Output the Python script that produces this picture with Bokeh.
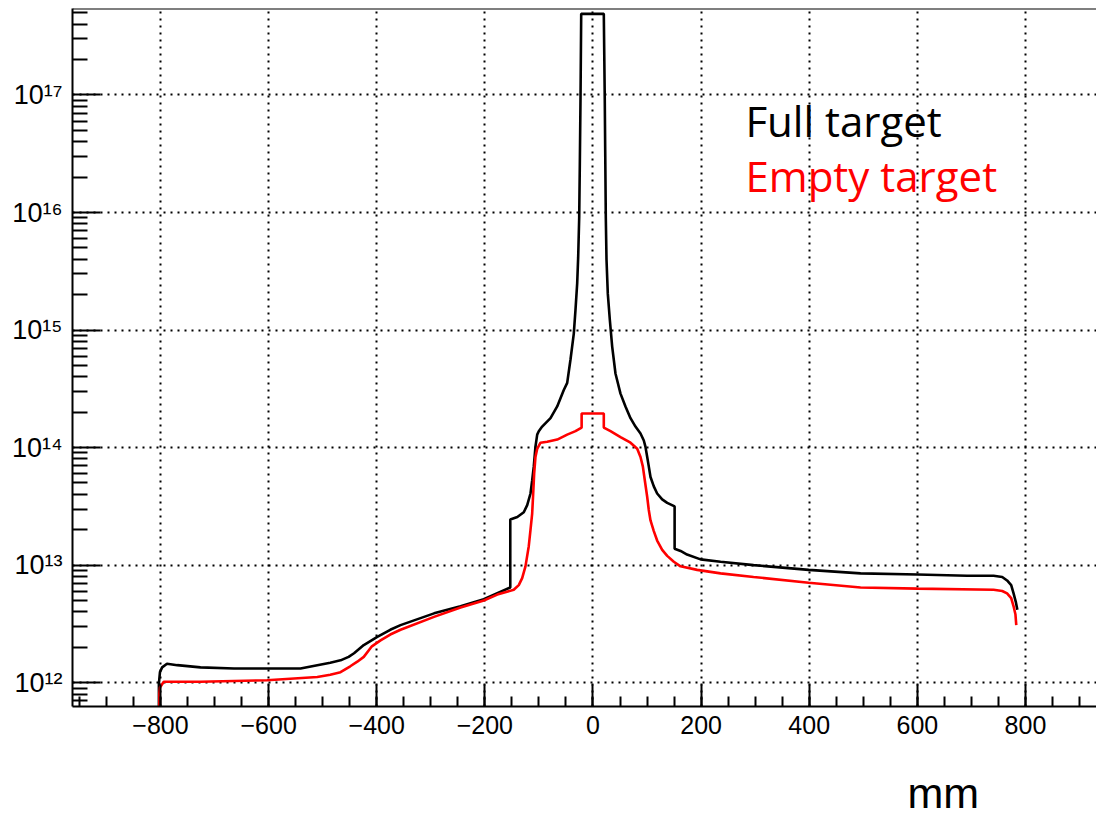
from bokeh.plotting import figure
from bokeh.models import (Range1d, FixedTicker, SingleIntervalTicker, Label, Span,
                          CustomJSTickFormatter, Title)
from bokeh.embed import file_html
from bokeh.resources import INLINE

# ---- data: position along the beam line (mm) and rate per bin ----
full_x = [-803, -803, -801, -797, -788, -769, -726, -664, -603, -541, -510, -486, -467,
          -452, -442, -424, -399, -375, -356, -294, -245, -202, -153,
          -153, -140, -128, -121.7, -115.6, -112.5, -109.5, -106.4, -103.2, -100.3, -94,
          -78.6, -66.2, -54, -47.7, -41.6, -35.5, -32.4, -29.2, -27.4, -25.5, -24.4,
          -23.1, -21.8,
          20, 21.8, 22.6, 23.7, 25, 27.4, 31.1, 35.5, 41.6, 50.9, 60.1, 69.4, 78.6, 87.9,
          94, 97, 100.3, 103.2, 106.4, 112.5, 118.7, 128, 137.3, 151,
          151, 162, 174, 199, 236, 297, 399, 495, 600, 692, 741, 757, 766, 773.6, 778,
          782, 785]
full_y = [1e11, 9.8e11, 1.23e12, 1.35e12, 1.45e12, 1.41e12, 1.35e12, 1.32e12, 1.32e12,
          1.32e12, 1.41e12, 1.48e12, 1.55e12,
          1.66e12, 1.78e12, 2.09e12, 2.45e12, 2.82e12, 3.09e12, 3.89e12, 4.47e12, 5.13e12,
          6.46e12,
          2.45e13, 2.57e13, 2.82e13, 3.24e13, 4.07e13, 5.25e13, 6.92e13, 1.02e14, 1.29e14,
          1.38e14, 1.51e14,
          1.78e14, 2.24e14, 3.09e14, 3.55e14, 5.62e14, 9.33e14, 1.48e15, 2.51e15, 4.17e15,
          9.12e15, 2.45e16,
          9.12e16, 4.9e17,
          4.9e17, 9.12e16, 3.39e16, 9.12e15, 3.98e15, 2.04e15, 1.23e15, 7.24e14, 4.27e14,
          2.88e14, 2.24e14, 1.78e14, 1.51e14, 1.32e14,
          1.15e14, 1.02e14, 8.32e13, 6.92e13, 5.62e13, 4.68e13, 4.07e13, 3.63e13, 3.39e13,
          3.16e13,
          1.38e13, 1.32e13, 1.23e13, 1.12e13, 1.07e13, 1.0e13, 9.12e12, 8.51e12, 8.32e12,
          8.13e12, 8.13e12, 7.94e12, 7.41e12, 6.76e12, 5.75e12,
          4.9e12, 4.17e12]

empty_x = [-803, -802, -801, -794, -726, -603, -510, -486, -467, -449, -436, -424, -409,
           -393, -375, -356, -294, -245, -202, -177, -146.5, -137.3, -131, -124.9, -118.8,
           -115.6, -112.5, -110.6, -108.8, -106.4, -103.2, -97.1, -84.7, -66.2, -47.7,
           -32.4, -21, -21,
           20, 20, 32.4, 50.9, 69.4, 81.8, 87.9, 92.2, 95.9, 100.3, 103.2, 106.4, 112.5,
           118.7, 128, 137.3, 149.5, 161.9, 192.7, 236, 297, 399, 495, 600, 741, 757,
           766, 773.6, 778, 781.5, 783]
empty_y = [1e11, 8.13e11, 9.12e11, 1.02e12, 1.02e12, 1.05e12, 1.12e12, 1.17e12, 1.23e12,
           1.38e12, 1.51e12, 1.66e12, 2.04e12,
           2.29e12, 2.57e12, 2.82e12, 3.63e12, 4.37e12, 5.01e12, 5.62e12, 6.17e12, 6.76e12,
           7.76e12, 9.77e12, 1.45e13,
           2.0e13, 2.75e13, 4.07e13, 6.03e13, 8.32e13, 9.77e13, 1.1e14, 1.12e14, 1.17e14,
           1.29e14,
           1.38e14, 1.48e14, 1.95e14,
           1.95e14, 1.48e14, 1.38e14, 1.23e14, 1.1e14, 9.77e13, 8.32e13, 6.92e13, 5.25e13,
           3.8e13, 2.95e13, 2.4e13, 1.95e13,
           1.62e13, 1.35e13, 1.2e13, 1.07e13, 9.77e12, 9.12e12, 8.51e12, 7.94e12, 7.08e12,
           6.46e12, 6.31e12, 6.17e12, 6.03e12,
           5.75e12, 5.25e12, 4.47e12, 3.8e12, 3.09e12]

x_ticks = [-800, -600, -400, -200, 0, 200, 400, 600, 800]
x_tick_labels = ["\u2212800", "\u2212600", "\u2212400", "\u2212200", "0",
                 "200", "400", "600", "800"]
y_ticks = [1e12, 1e13, 1e14, 1e15, 1e16, 1e17]
y_tick_labels = ["10\u00b9\u00b2", "10\u00b9\u00b3", "10\u00b9\u2074", "10\u00b9\u2075",
                 "10\u00b9\u2076", "10\u00b9\u2077"]
y_minor = [m * 10.0 ** e for e in range(11, 18) for m in range(2, 10)]

series_names = ["Full target", "Empty target"]
series_colors = ["#000000", "#ff0000"]
x_unit = "mm"

TICK_FONT = "Liberation Sans"
TEXT_FONT = "Open Sans"

p = figure(width=1096, height=818, y_axis_type="log",
           x_range=Range1d(-962.8, 931.4),
           y_range=Range1d(10 ** 11.7976, 10 ** 17.7355),
           output_backend="svg", toolbar_location=None,
           min_border_left=72, min_border_right=0, min_border_top=8,
           min_border_bottom=112)
p.outline_line_color = None
p.background_fill_color = "white"
p.border_fill_color = "white"

xticker = SingleIntervalTicker(interval=200, num_minor_ticks=4)
yticker = FixedTicker(ticks=y_ticks, minor_ticks=y_minor)

xa = p.xaxis[0]
xa.ticker = xticker
xa.major_label_overrides = {t: s for t, s in zip(x_ticks, x_tick_labels)}
ya = p.yaxis[0]
ya.ticker = yticker
ya.formatter = CustomJSTickFormatter(args=dict(labels=y_tick_labels), code="""
    const i = Math.round(Math.log10(tick)) - 12;
    return labels[i];
""")

for ax, maj, mnr in ((xa, 22, 10), (ya, 28, 15)):
    ax.axis_line_width = 2
    ax.axis_line_color = "black"
    ax.major_tick_in = maj
    ax.major_tick_out = 0
    ax.minor_tick_in = mnr
    ax.minor_tick_out = 0
    ax.major_tick_line_width = 2
    ax.minor_tick_line_width = 2
    ax.major_tick_line_color = "black"
    ax.minor_tick_line_color = "black"
    ax.major_label_text_font = TICK_FONT
    ax.major_label_text_color = "black"
xa.major_label_text_font_size = "25px"
ya.major_label_text_font_size = "27px"
xa.major_label_standoff = 9
ya.major_label_standoff = 10

# blank spacer line under the tick labels, so the unit sits lower
xa.axis_label = "\u00a0"
xa.axis_label_standoff = 0
xa.axis_label_text_font = TICK_FONT
xa.axis_label_text_font_size = "24px"

for g, tk in ((p.xgrid[0], xticker), (p.ygrid[0], yticker)):
    g.ticker = tk
    g.grid_line_color = "black"
    g.grid_line_dash = "2 5"
    g.grid_line_width = 2

# top border of the frame
p.add_layout(Span(location=10 ** 17.7355, dimension="width",
                  line_color="black", line_width=2))

p.line(full_x, full_y, line_color=series_colors[0], line_width=2.6)
p.line(empty_x, empty_y, line_color=series_colors[1], line_width=2.6)

p.add_layout(Label(x=282, y=6.12e16, text=series_names[0], text_color=series_colors[0],
                   text_font=TEXT_FONT, text_font_size="42px",
                   text_baseline="alphabetic"))
p.add_layout(Label(x=282, y=2.08e16, text=series_names[1], text_color=series_colors[1],
                   text_font=TEXT_FONT, text_font_size="42px",
                   text_baseline="alphabetic"))

# axis unit, placed under the tick labels toward the right end
p.add_layout(Title(text=x_unit, align="left", offset=835, text_font=TICK_FONT,
                   text_font_size="43px", text_font_style="normal",
                   text_color="black", vertical_align="bottom", standoff=0), "below")

open("out.html", "w").write(file_html(p, INLINE))
